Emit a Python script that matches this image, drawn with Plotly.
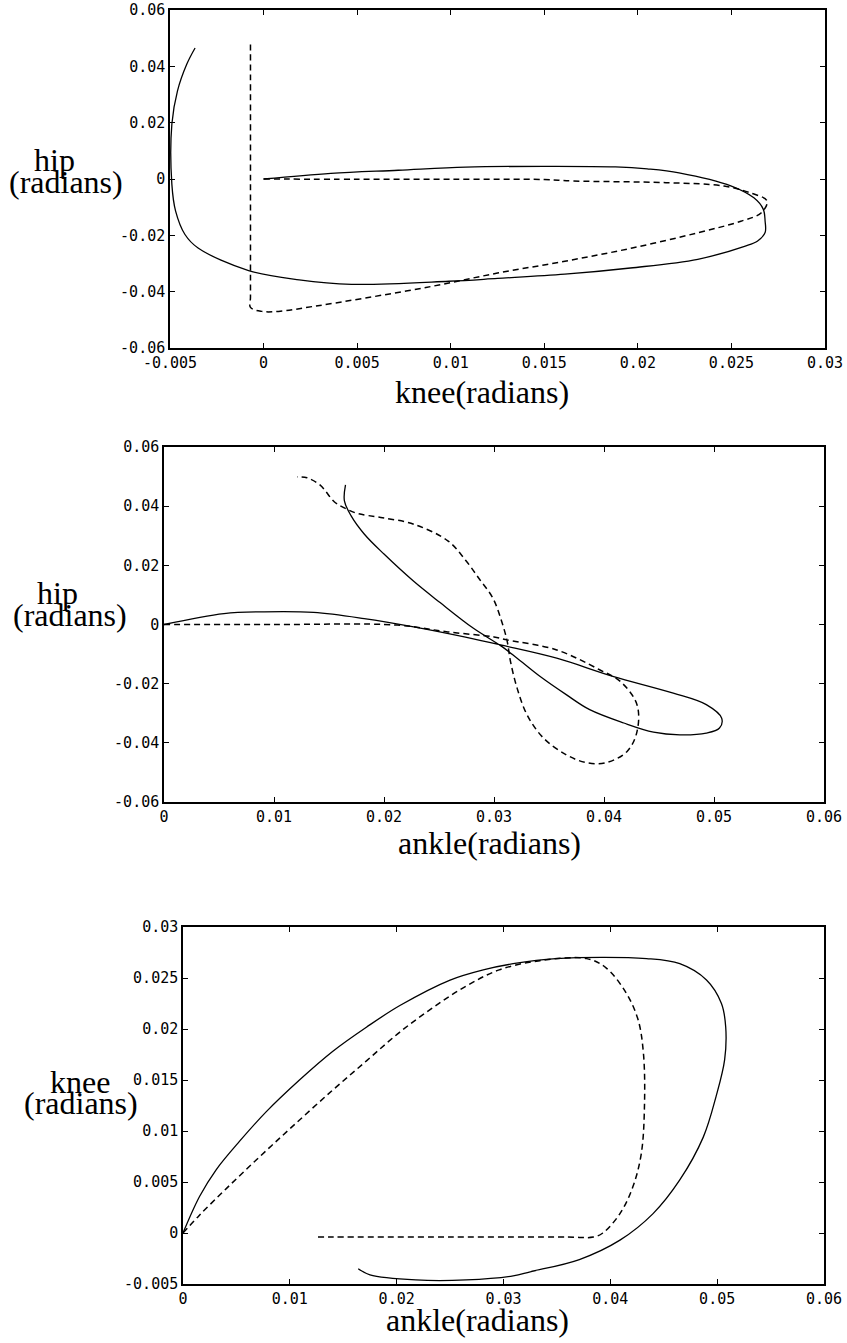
import plotly.graph_objects as go

# ---------------- data ----------------
# Panel 1: knee (x) vs hip (y)
p1_solid_knee = [0.0, 0.0036, 0.0072, 0.0108, 0.0150, 0.0188, 0.0205, 0.0222, 0.0250, 0.0262, 0.0267,
                 0.0268, 0.0268, 0.0264, 0.0257, 0.0232, 0.0196, 0.0161, 0.0125, 0.0099, 0.0047,
                 0.0019, -0.0008, -0.0035, -0.0042, -0.0047, -0.0049, -0.0049, -0.0046, -0.0041, -0.00366]
p1_solid_hip = [0.0, 0.0020, 0.0031, 0.0042, 0.0045, 0.0043, 0.0036, 0.0022, -0.0025, -0.0067, -0.0107,
                -0.0150, -0.0190, -0.0220, -0.0239, -0.0285, -0.0316, -0.0338, -0.0353, -0.0363, -0.0374,
                -0.0358, -0.0325, -0.0245, -0.0197, -0.0114, -0.0019, 0.0195, 0.0313, 0.0408, 0.0465]
p1_dash_knee = [0.0, 0.005, 0.010, 0.0150, 0.0165, 0.0215, 0.0246, 0.0260, 0.0269, 0.0266,
                0.0255, 0.0232, 0.0197, 0.0161, 0.0125, 0.0090, 0.0054, 0.0027, 0.0008, -0.0001,
                -0.0007, -0.0007, -0.0007, -0.0007, -0.0007]
p1_dash_hip = [0.0, -0.0001, -0.0001, -0.0002, -0.0007, -0.0013, -0.0025, -0.0049, -0.0078, -0.0120,
               -0.0150, -0.0191, -0.0245, -0.0292, -0.0334, -0.0381, -0.0423, -0.0452, -0.0470, -0.0470,
               -0.0456, -0.0420, 0.0000, 0.0450, 0.0489]

# Panel 2: ankle (x) vs hip (y)
p2_solid_ankle = [0.0, 0.00545, 0.0091, 0.0136, 0.0182, 0.0227, 0.0273, 0.0307, 0.0357,
                  0.0408, 0.0463, 0.0493, 0.0507, 0.0505, 0.0493, 0.0469, 0.0445, 0.0418, 0.0387,
                  0.0366, 0.0342, 0.0321, 0.0307, 0.0281, 0.0251, 0.0227, 0.0200, 0.0182, 0.0170,
                  0.0164, 0.0165]
p2_solid_hip = [0.0, 0.0037, 0.0043, 0.0041, 0.0020, -0.0008, -0.0042, -0.0070, -0.0114,
                -0.0175, -0.0232, -0.0271, -0.0317, -0.0350, -0.0367, -0.0373, -0.0364, -0.0333, -0.0288,
                -0.0238, -0.0176, -0.0114, -0.0074, -0.0012, 0.0074, 0.0146, 0.0238, 0.0306, 0.0368,
                0.0418, 0.0472]
p2_dash_ankle = [0.0, 0.0100, 0.0212, 0.0258, 0.0300, 0.0312, 0.0357, 0.0396, 0.0415, 0.0430,
                 0.0430, 0.0421, 0.0402, 0.0384, 0.0366, 0.0345, 0.0330, 0.0321, 0.0315, 0.0312,
                 0.0307, 0.0299, 0.0287, 0.0274, 0.0258, 0.0227, 0.0197, 0.0176, 0.0164, 0.0155,
                 0.0142, 0.0130, 0.0121]
p2_dash_hip = [0.0, 0.0, -0.0002, -0.0025, -0.0042, -0.0052, -0.0086, -0.0153, -0.0193, -0.0271,
               -0.0362, -0.0429, -0.0467, -0.0467, -0.0441, -0.0384, -0.0305, -0.0215, -0.0125, -0.0057,
               0.0010, 0.0089, 0.0152, 0.0218, 0.0283, 0.0339, 0.0362, 0.0375, 0.0394, 0.0414,
               0.0471, 0.0496, 0.0499]

# Panel 3: ankle (x) vs knee (y)
p3_solid_ankle = [0.0, 0.00156, 0.0031, 0.0053, 0.0078, 0.0109, 0.0140, 0.0172, 0.0203, 0.0250,
                  0.0281, 0.0309, 0.0349, 0.0434, 0.0465, 0.0490, 0.0504, 0.0508, 0.0507, 0.0499,
                  0.0487, 0.0465, 0.0440, 0.0409, 0.0371, 0.0325, 0.0309, 0.0265, 0.0218, 0.0175,
                  0.0164]
p3_solid_knee = [0.0, 0.0036, 0.0062, 0.0090, 0.0119, 0.0150, 0.0178, 0.0202, 0.0223, 0.0248,
                 0.0258, 0.0264, 0.0269, 0.0269, 0.0264, 0.0248, 0.0225, 0.0202, 0.0170, 0.0134,
                 0.0094, 0.0052, 0.0019, -0.0007, -0.0026, -0.0038, -0.0042, -0.0046, -0.0046, -0.0041,
                 -0.0035]
p3_dash_ankle = [0.0, 0.0015, 0.0041, 0.0072, 0.0103, 0.0140, 0.0172, 0.0203, 0.0234, 0.0265,
                 0.0296, 0.0334, 0.0378, 0.0396, 0.0415, 0.0426, 0.0431, 0.0432, 0.0429, 0.0421,
                 0.0409, 0.0393, 0.0384, 0.0360, 0.0250, 0.0140, 0.0123]
p3_dash_knee = [0.0, 0.0017, 0.0044, 0.0075, 0.0105, 0.0140, 0.0169, 0.0197, 0.0221, 0.0242,
                0.0258, 0.0267, 0.0269, 0.0260, 0.0235, 0.0209, 0.0176, 0.0127, 0.0078, 0.0045,
                0.0019, 0.0000, -0.0004, -0.0004, -0.0004, -0.0004, -0.0004]

# tick values / labels
p1_xticks = [-0.005, 0, 0.005, 0.01, 0.015, 0.02, 0.025, 0.03]
p1_xtext = ["-0.005", "0", "0.005", "0.01", "0.015", "0.02", "0.025", "0.03"]
hip_ticks = [-0.06, -0.04, -0.02, 0, 0.02, 0.04, 0.06]
hip_text = ["-0.06", "-0.04", "-0.02", "0", "0.02", "0.04", "0.06"]
ankle_ticks = [0, 0.01, 0.02, 0.03, 0.04, 0.05, 0.06]
ankle_text = ["0", "0.01", "0.02", "0.03", "0.04", "0.05", "0.06"]
p3_yticks = [-0.005, 0, 0.005, 0.01, 0.015, 0.02, 0.025, 0.03]
p3_ytext = ["-0.005", "0", "0.005", "0.01", "0.015", "0.02", "0.025", "0.03"]

# ---------------- figure ----------------
W, H = 847, 1343
fig = go.Figure()

solid = dict(color="black", width=1.3, shape="spline", smoothing=1.0)
dashed = dict(color="black", width=1.5, dash="6px,4px", shape="spline", smoothing=1.0)

def add(x, y, line, xa, ya):
    fig.add_trace(go.Scatter(x=x, y=y, mode="lines", line=line, xaxis=xa, yaxis=ya,
                             showlegend=False, hoverinfo="skip"))

add(p1_solid_knee, p1_solid_hip, solid, "x", "y")
add(p1_dash_knee, p1_dash_hip, dashed, "x", "y")
add(p2_solid_ankle, p2_solid_hip, solid, "x2", "y2")
add(p2_dash_ankle, p2_dash_hip, dashed, "x2", "y2")
add(p3_solid_ankle, p3_solid_knee, solid, "x3", "y3")
add(p3_dash_ankle, p3_dash_knee, dashed, "x3", "y3")

tickfont = dict(family="DejaVu Sans Mono", size=15, color="black")

def axis(domain, rng, tv, tt, anchor):
    return dict(domain=domain, range=rng, tickvals=tv, ticktext=tt, anchor=anchor,
                automargin=False,
                showline=True, linecolor="black", linewidth=1.5, mirror="ticks",
                ticks="inside", ticklen=5, tickwidth=1.2, tickcolor="black",
                showgrid=False, zeroline=False, tickfont=tickfont)

def px_x(p):
    return p / W

def px_y(p):
    return 1 - p / H

fig.update_layout(
    width=W, height=H, autosize=False,
    margin=dict(l=0, r=0, t=0, b=0, autoexpand=False),
    paper_bgcolor="white", plot_bgcolor="white",
    xaxis=axis([px_x(170), px_x(825)], [-0.005, 0.03], p1_xticks, p1_xtext, "y"),
    yaxis=axis([px_y(348), px_y(10)], [-0.06, 0.06], hip_ticks, hip_text, "x"),
    xaxis2=axis([px_x(164), px_x(824)], [0, 0.06], ankle_ticks, ankle_text, "y2"),
    yaxis2=axis([px_y(802), px_y(447)], [-0.06, 0.06], hip_ticks, hip_text, "x2"),
    xaxis3=axis([px_x(183), px_x(824)], [0, 0.06], ankle_ticks, ankle_text, "y3"),
    yaxis3=axis([px_y(1284), px_y(927)], [-0.005, 0.03], p3_yticks, p3_ytext, "x3"),
)

labfont = dict(family="Liberation Serif", size=32, color="black")
labels = [
    ("knee(radians)", 482, 392),
    ("hip", 54, 160), ("(radians)", 66, 182),
    ("ankle(radians)", 489, 843),
    ("hip", 57, 593), ("(radians)", 70, 615),
    ("ankle(radians)", 477, 1320),
    ("knee", 80, 1082), ("(radians)", 81, 1103),
]
for txt, x, y in labels:
    fig.add_annotation(text=txt, x=px_x(x), y=px_y(y), xref="paper", yref="paper",
                       xanchor="center", yanchor="middle", showarrow=False, font=labfont)

fig.write_html("out.html")
